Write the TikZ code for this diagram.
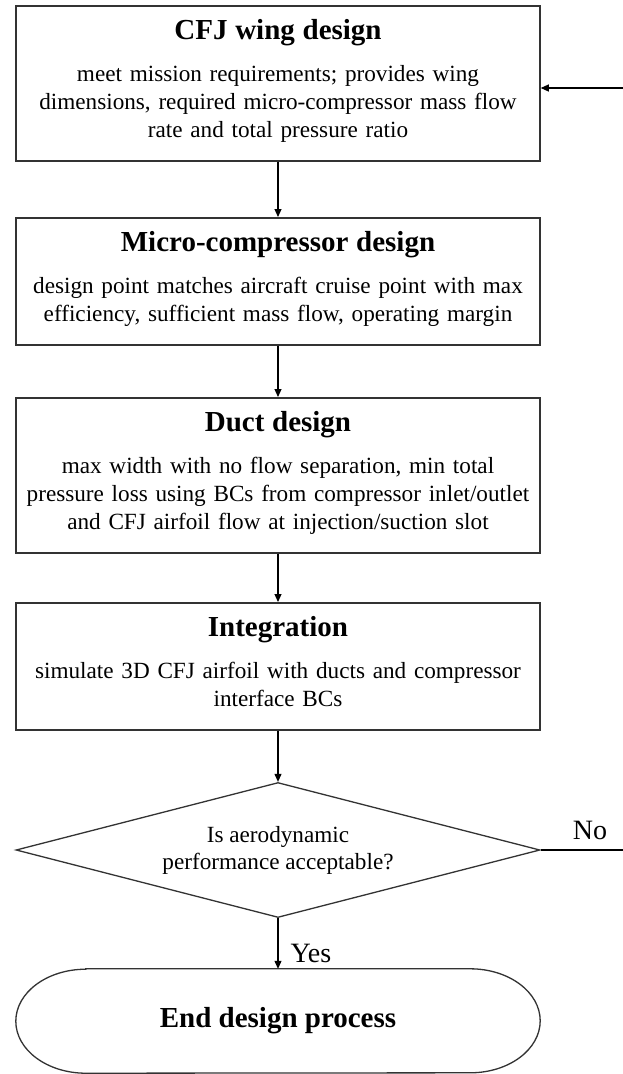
\documentclass[tikz,border=0pt]{standalone}
\usepackage{fontspec}
\setmainfont{Liberation Serif}
\usetikzlibrary{arrows.meta,shapes.geometric}
\newcommand\bodyfnt{\fontsize{23.2pt}{28pt}\selectfont}
\newcommand\decfnt{\fontsize{23.2pt}{27pt}\selectfont}
\newcommand\titlefnt{\fontsize{29pt}{34pt}\selectfont\bfseries}
\newcommand\lblfnt{\fontsize{28pt}{32pt}\selectfont}
\begin{document}
\begin{tikzpicture}[x=1pt,y=-1pt,
  stepbox/.style={draw=black!80, line width=1.5pt, rectangle, text width=524pt,
    inner xsep=0pt, inner ysep=0pt, align=center, anchor=north, font=\bodyfnt},
  decision/.style={diamond, draw=black!80, line width=1.3pt, minimum width=524pt,
    minimum height=135pt, shape aspect=3.88, inner sep=0pt, align=center, font=\decfnt},
  outline/.style={draw=black!80, line width=1.3pt},
  conn/.style={draw=black, line width=1.1pt, -{Triangle[length=8pt,width=7pt]}},
  plainline/.style={draw=black, line width=1.1pt},
  lbl/.style={font=\lblfnt, inner sep=0pt}]
\useasboundingbox (0,0) rectangle (623,1074);
\fill[white] (0,0) rectangle (623,1074);

\node[stepbox] (cfj) at (278,5) {\rule{0pt}{34pt}{\titlefnt CFJ wing design}\\[14pt]meet mission requirements; provides wing\\dimensions, required micro-compressor mass flow\\rate and total pressure ratio\rule[-23pt]{0pt}{23pt}};

\node[stepbox] (micro) at (278,217) {\rule{0pt}{34pt}{\titlefnt Micro-compressor design}\\[14pt]design point matches aircraft cruise point with max\\efficiency, sufficient mass flow, operating margin\rule[-23pt]{0pt}{23pt}};

\node[stepbox] (duct) at (278,397) {\rule{0pt}{34pt}{\titlefnt Duct design}\\[14pt]max width with no flow separation, min total\\pressure loss using BCs from compressor inlet/outlet\\and CFJ airfoil flow at injection/suction slot\rule[-23pt]{0pt}{23pt}};

\node[stepbox] (integ) at (278,602) {\rule{0pt}{34pt}{\titlefnt Integration}\\[14pt]simulate 3D CFJ airfoil with ducts and compressor\\interface BCs\rule[-23pt]{0pt}{23pt}};

\node[decision] (dec) at (278,850) {Is aerodynamic\\performance acceptable?};

\node[minimum width=524pt, minimum height=104pt, inner sep=0pt, font=\titlefnt] (term) at (278,1021) {End design process};
\draw[outline] ([xshift=70pt]term.north west) -- ([xshift=-70pt]term.north east)
  arc[start angle=90, end angle=-90, x radius=70pt, y radius=52pt]
  -- ([xshift=70pt]term.south west)
  arc[start angle=270, end angle=90, x radius=70pt, y radius=52pt] -- cycle;

\coordinate (noEnd) at (623,850);
\coordinate (fbIn) at (623,88);

\draw[conn] (cfj.south) -- (micro.north);
\draw[conn] (micro.south) -- (duct.north);
\draw[conn] (duct.south) -- (integ.north);
\draw[conn] (integ.south) -- (dec.north);
\draw[conn] (dec.south) -- node[lbl, right=12pt, pos=0.7] (yes) {Yes} (term.north);
\draw[plainline] (dec.east) -- node[lbl, above=10pt, pos=0.6] (no) {No} (noEnd);
\draw[conn] (fbIn) -- (fbIn -| cfj.east);
\end{tikzpicture}
\end{document}
